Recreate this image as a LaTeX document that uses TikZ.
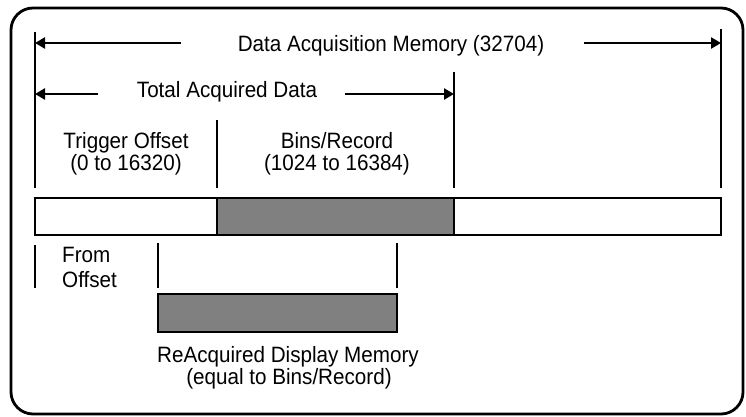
\documentclass[tikz,border=0pt]{standalone}
\usepackage{fontspec}
\setmainfont{Liberation Sans}[FakeStretch=0.93]
\usetikzlibrary{arrows.meta}
\begin{document}
\begin{tikzpicture}[x=1pt,y=-1pt,
  thickline/.style={line width=2.8pt},
  thinline/.style={line width=2.2pt},
  dimarrow/.style={line width=2.8pt,-{Triangle[length=10pt,width=11pt]}},
  lbl/.style={font=\fontsize{22.2}{23}\selectfont,anchor=base,inner sep=0pt},
  graybox/.style={line width=2.8pt,fill=black!50,draw=black},
  whitebox/.style={line width=2.8pt,fill=white,draw=black}]
\useasboundingbox (0,0) rectangle (746,417);
% outer frame
\draw[thickline,rounded corners=22pt] (11,8) rectangle (743,414);
% vertical boundary lines
\coordinate (L0) at (35,32);
\coordinate (Lb) at (35,188);
\coordinate (R0) at (721,29);
\coordinate (Rb) at (721,188);
\coordinate (M0) at (454,72);
\coordinate (Mb) at (454,188);
\coordinate (T0) at (217,120);
\coordinate (Tb) at (217,188);
\draw[thickline] (L0) -- (Lb);
\draw[thickline] (R0) -- (Rb);
\draw[thickline] (M0) -- (Mb);
\draw[thinline] (T0) -- (Tb);
% labels
\node[lbl] (dam) at (391,52) {Data Acquisition Memory (32704)};
\node[lbl] (tad) at (227,98) {Total Acquired Data};
% arrows
\coordinate (a1s) at (181,43);
\coordinate (a1e) at (35,43);
\coordinate (a2s) at (584,43);
\coordinate (a2e) at (721,43);
\coordinate (b1s) at (98,94);
\coordinate (b1e) at (35,94);
\coordinate (b2s) at (345,94);
\coordinate (b2e) at (454,94);
\draw[dimarrow] (a1s) -- (a1e);
\draw[dimarrow] (a2s) -- (a2e);
\draw[dimarrow] (b1s) -- (b1e);
\draw[dimarrow] (b2s) -- (b2e);
% section labels
\node[lbl] (to1) at (126,148) {Trigger Offset};
\node[lbl] (to2) at (126,170) {(0 to 16320)};
\node[lbl] (br1) at (337,148) {Bins/Record};
\node[lbl] (br2) at (337,170) {(1024 to 16384)};
% memory bar
\draw[whitebox] (35,198) rectangle (721,235);
\draw[graybox] (217,198) rectangle (454,235);
% lower ticks
\coordinate (c1) at (35,245);
\coordinate (c1b) at (35,288);
\coordinate (c2) at (158,243);
\coordinate (c2b) at (158,288);
\coordinate (c3) at (397,243);
\coordinate (c3b) at (397,288);
\draw[thinline] (c1) -- (c1b);
\draw[thinline] (c2) -- (c2b);
\draw[thinline] (c3) -- (c3b);
\node[lbl,anchor=base west] (fr) at (62,262) {From};
\node[lbl,anchor=base west] (of) at (62,287) {Offset};
% reacquired block
\draw[graybox] (158,294) rectangle (397,332);
\node[lbl] (ra1) at (288,362) {ReAcquired Display Memory};
\node[lbl] (ra2) at (289,384) {(equal to Bins/Record)};
\end{tikzpicture}
\end{document}
